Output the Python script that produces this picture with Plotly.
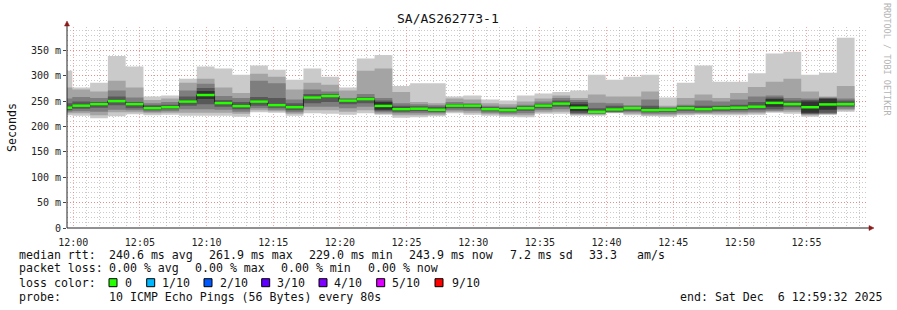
import plotly.graph_objects as go
import pandas as pd

# ---------------- data (ms) : 10 sorted pings per 80 s step ----------------
ping1 = [222,221,216,220,224,222,223,221,221,221,219,228,227,221,226,225,223,226,223,217,218,220,226,223,221,219,218,225,225,221,221,226,222,220,219,222,223,222,222,223,227,225,219,223,229]
ping2 = [226,226,222,228,228,226,227,227,227,227,225,232,230,225,232,232,229,232,225,222,222,223,229,227,224,222,222,228,229,223,223,227,225,222,222,224,225,225,225,226,229,229,222,224,232]
ping3 = [229,230,229,233,232,229,230,234,234,233,229,236,233,228,239,239,236,239,228,226,226,226,232,231,227,225,226,232,234,225,225,228,228,225,225,227,227,228,228,229,231,233,224,225,235]
ping4 = [232,235,237,242,236,232,234,241,244,239,234,241,237,232,246,248,244,246,231,229,230,229,236,236,230,228,231,236,239,226,226,229,231,228,229,231,230,231,232,233,234,238,225,227,239]
ping5 = [235,239,242,248,242,234,236,247,254,244,238,247,240,236,255,258,249,252,233,231,233,231,239,239,232,230,234,239,243,230,227,231,234,230,231,234,232,234,235,237,239,242,227,233,243]
ping6 = [239,243,246,252,246,238,240,251,270,248,242,251,244,240,259,262,253,256,248,237,237,235,243,243,236,234,238,243,247,244,231,236,238,234,235,238,236,238,239,241,254,246,249,254,245]
ping7 = [246,249,248,259,248,242,243,259,276,252,248,258,256,246,264,264,254,258,251,241,240,239,244,244,238,236,240,245,251,248,236,241,239,241,236,240,241,241,243,248,257,251,252,256,251]
ping8 = [255,258,256,271,257,246,248,271,284,260,256,290,285,253,273,269,256,264,256,246,244,242,248,246,241,239,243,249,256,252,247,246,242,253,238,243,251,249,253,259,261,256,255,257,255]
ping9 = [277,273,269,290,277,252,255,286,294,277,266,304,298,273,286,282,271,310,314,268,248,246,255,253,246,244,249,255,261,256,263,259,259,269,241,256,263,256,266,278,288,294,269,259,280]
ping10 = [310,277,286,339,318,259,261,294,318,314,302,320,312,292,314,298,277,334,341,280,285,285,259,261,253,251,261,265,268,271,302,292,298,302,257,286,320,288,288,305,344,347,302,306,375]

plot_start = "2025-12-06 11:59:32"
plot_end = "2025-12-06 12:59:32"
first_step_end = "2025-12-06 11:59:56"
step = "80s"

title = "SA/AS262773-1"
y_ticks = [0, 50, 100, 150, 200, 250, 300, 350]
y_ticktext = ["0", "50 m", "100 m", "150 m", "200 m", "250 m", "300 m", "350 m"]
smoke_colors = ["#cacaca", "#a4a4a4", "#7e7e7e", "#585858", "#323232"]
loss_labels = ["0", "1/10", "2/10", "3/10", "4/10", "5/10", "9/10"]
loss_colors = ["#26ff00", "#00b8ff", "#0059ff", "#5e00ff", "#7e00ff", "#dd00ff", "#ff0000"]

# ---------------- geometry ----------------
W, H = 897, 310
L, R, T, B = 67, 30, 27, 82
PW, PH = W - L - R, H - T - B
FONT = "DejaVu Sans Mono"


def px(x):
    return (x - L) / PW


def py(y):
    return (T + PH - y) / PH


n = len(ping1)
ends = pd.date_range(first_step_end, periods=n, freq=step)
starts = [pd.Timestamp(plot_start)] + list(ends[:-1])
xs = list(starts) + [ends[-1]]


def sy(v):
    return list(v) + [v[-1]]


pings = [ping1, ping2, ping3, ping4, ping5, ping6, ping7, ping8, ping9, ping10]
fig = go.Figure()
for i in range(5):
    lo, hi = pings[i], pings[9 - i]
    fig.add_trace(go.Scatter(x=xs, y=sy(lo), mode="lines", line=dict(width=0, shape="hv"),
                             hoverinfo="skip", showlegend=False))
    fig.add_trace(go.Scatter(x=xs, y=sy(hi), mode="lines", line=dict(width=0, shape="hv"),
                             fill="tonexty", fillcolor=smoke_colors[i], hoverinfo="skip",
                             showlegend=False))

median = [(a + b) / 2 for a, b in zip(ping5, ping6)]
fig.add_trace(go.Scatter(x=xs, y=sy(median), mode="lines",
                         line=dict(width=1, shape="hv", color="#202020"),
                         hoverinfo="skip", showlegend=False))
gx, gy = [], []
for s, e, m in zip(starts, ends, median):
    gx += [s, e, None]
    gy += [m, m, None]
fig.add_trace(go.Scatter(x=gx, y=gy, mode="lines", line=dict(width=2.5, color=loss_colors[0]),
                         hoverinfo="skip", showlegend=False))

grid_major = "rgba(255,90,90,0.55)"
grid_minor = "rgba(150,150,150,0.5)"

fig.update_xaxes(type="date", range=[plot_start, plot_end], tickformat="%H:%M",
                 tick0="2025-12-06 12:00:00", dtick=300000,
                 showgrid=True, gridcolor=grid_major, griddash="1px,2px", gridwidth=1,
                 minor=dict(dtick=60000, tick0="2025-12-06 12:00:00", showgrid=True,
                            gridcolor=grid_minor, griddash="1px,2px", gridwidth=1),
                 showline=False, zeroline=False, ticks="outside", ticklen=3,
                 tickcolor="rgba(0,0,0,0)", ticklabelstandoff=2,
                 tickfont=dict(family=FONT, size=10, color="#222"), fixedrange=True)
fig.update_yaxes(range=[0, 396], tickmode="array", tickvals=y_ticks, ticktext=y_ticktext,
                 showgrid=True, gridcolor=grid_major, griddash="1px,2px", gridwidth=1,
                 minor=dict(tickmode="linear", tick0=0, dtick=10, showgrid=True,
                            gridcolor=grid_minor, griddash="1px,2px", gridwidth=1),
                 showline=False, zeroline=False, ticks="outside", ticklen=3, tickcolor="#444",
                 tickfont=dict(family=FONT, size=10, color="#222"), fixedrange=True)

shapes = []
axis_col = "#222"
arrow_col = "#8b1a1a"
# axis lines
shapes.append(dict(type="line", xref="paper", yref="paper", x0=px(67), x1=px(869),
                   y0=py(228), y1=py(228), line=dict(color=axis_col, width=1)))
shapes.append(dict(type="line", xref="paper", yref="paper", x0=px(67), x1=px(67),
                   y0=py(228), y1=py(25), line=dict(color=axis_col, width=1)))
# arrows
shapes.append(dict(type="path", xref="paper", yref="paper",
                   path=f"M {px(869)} {py(225.5)} L {px(874)} {py(228)} L {px(869)} {py(230.5)} Z",
                   fillcolor=arrow_col, line=dict(color=arrow_col, width=0.5)))
shapes.append(dict(type="path", xref="paper", yref="paper",
                   path=f"M {px(64.5)} {py(26)} L {px(67)} {py(21)} L {px(69.5)} {py(26)} Z",
                   fillcolor=arrow_col, line=dict(color=arrow_col, width=0.5)))

ann = []


def text(x, y, s, size=11.6, color="#111", anchor="left", angle=0):
    ann.append(dict(x=px(x), y=py(y), xref="paper", yref="paper", text=s, showarrow=False,
                    xanchor=anchor, yanchor="middle", textangle=angle,
                    font=dict(family=FONT, size=size, color=color)))


text(448, 19, title, size=13, anchor="center")
text(12, 127, "Seconds", size=11.6, anchor="center", angle=-90)
text(887, 60, "RRDTOOL / TOBI OETIKER", size=8.5, color="#b4b4b4", anchor="center", angle=90)

r1, r2, r3, r4 = 254.7, 268.3, 282.7, 296.7
text(16.7, r1, "median rtt:")
text(107.3, r1, "240.6 ms avg")
text(207.3, r1, "261.9 ms max")
text(307.3, r1, "229.0 ms min")
text(407.3, r1, "243.9 ms now")
text(508.3, r1, "7.2 ms sd")
text(586.7, r1, "33.3")
text(635, r1, "am/s")

text(16.7, r2, "packet loss:")
text(107.3, r2, "0.00 % avg")
text(193.3, r2, "0.00 % max")
text(279.3, r2, "0.00 % min")
text(365.7, r2, "0.00 % now")

text(16.7, r3, "loss color:")
sq_x = [109, 146.7, 204, 261.7, 319, 376.7, 435]
lab_x = [123.3, 160, 217.7, 275, 332.3, 390, 450]
for sx, lx, lab, col in zip(sq_x, lab_x, loss_labels, loss_colors):
    shapes.append(dict(type="rect", xref="paper", yref="paper", x0=px(sx), x1=px(sx + 8),
                       y0=py(r3 + 4), y1=py(r3 - 4), fillcolor=col,
                       line=dict(color="#000", width=1)))
    text(lx, r3, lab)

text(16.7, r4, "probe:")
text(107.3, r4, "10 ICMP Echo Pings (56 Bytes) every 80s")
text(678.3, r4, "end: Sat Dec\u00a0\u00a06 12:59:32 2025")

fig.update_layout(width=W, height=H, margin=dict(l=L, r=R, t=T, b=B, pad=0),
                  paper_bgcolor="white", plot_bgcolor="white", showlegend=False,
                  shapes=shapes, annotations=ann, hovermode=False)

fig.write_html("out.html", config={"displayModeBar": False})
